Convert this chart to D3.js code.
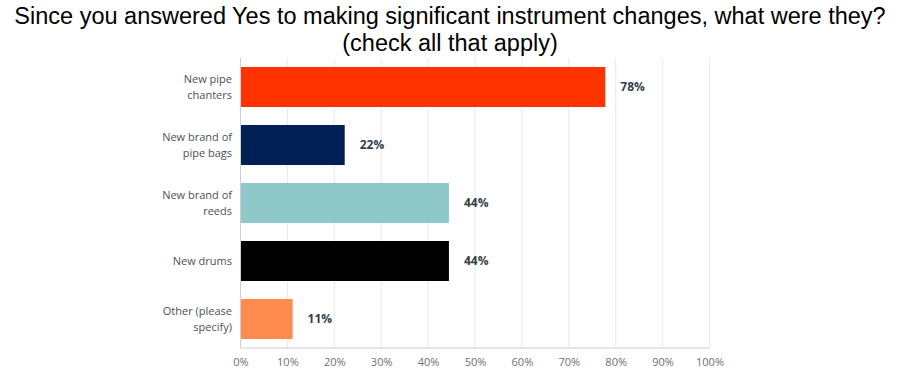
<!DOCTYPE html>
<html>
<head>
<meta charset="utf-8">
<script src="https://cdn.jsdelivr.net/npm/d3@7"></script>
<style>
  body { margin: 0; background: #fff; }
  svg { display: block; }
</style>
</head>
<body>
<svg id="chart" width="909" height="387"></svg>
<script>
const categories = ['New pipe chanters', 'New brand of pipe bags', 'New brand of reeds', 'New drums', 'Other (please specify)']
const labelLines = [['New pipe', 'chanters'], ['New brand of', 'pipe bags'], ['New brand of', 'reeds'], ['New drums'], ['Other (please', 'specify)']]
const values = [77.78, 22.22, 44.44, 44.44, 11.11]
const valueLabels = ['78%', '22%', '44%', '44%', '11%']
const colors = ['#ff3300', '#001f55', '#8ec8c9', '#000000', '#ff8b4f']
const ticks = [0, 10, 20, 30, 40, 50, 60, 70, 80, 90, 100]
const titleLines = ['Since you answered Yes to making significant instrument changes, what were they?', '(check all that apply)']

const svg = d3.select('#chart')
const plotLeft = 240.5, plotRight = 709.5, plotTop = 58, plotBottom = 348

const x = d3.scaleLinear().domain([0, 100]).range([plotLeft, plotRight])
const y = d3.scaleBand().domain(categories).range([plotTop, plotBottom]).paddingInner(0.31).paddingOuter(0.155)

// title
svg.append('g').selectAll('text')
  .data(titleLines)
  .join('text')
  .attr('x', 450)
  .attr('y', (d, i) => 24 + i * 27)
  .attr('text-anchor', 'middle')
  .attr('font-family', 'Liberation Sans, Arial, sans-serif')
  .attr('font-size', 23.5)
  .attr('fill', '#000')
  .text(d => d)

// grid
svg.append('g').selectAll('line')
  .data(ticks.slice(1))
  .join('line')
  .attr('x1', d => x(d)).attr('x2', d => x(d))
  .attr('y1', plotTop).attr('y2', plotBottom)
  .attr('stroke', '#e9e9e9')
  .attr('stroke-width', 1)

// axis lines
svg.append('line')
  .attr('x1', plotLeft).attr('x2', plotLeft).attr('y1', plotTop).attr('y2', plotBottom)
  .attr('stroke', '#cfcfcf')
svg.append('line')
  .attr('x1', plotLeft).attr('x2', plotRight).attr('y1', plotBottom).attr('y2', plotBottom)
  .attr('stroke', '#cfcfcf')

// x tick labels
const xAxis = d3.axisBottom(x).tickValues(ticks).tickFormat(d => d + '%').tickSize(0).tickPadding(10)
const gx = svg.append('g').attr('transform', `translate(0,${plotBottom})`).call(xAxis)
gx.select('.domain').remove()
gx.selectAll('text')
  .attr('font-family', 'Open Sans, Roboto, sans-serif')
  .attr('font-size', 11)
  .attr('fill', '#6a7079')

// bars
svg.append('g').selectAll('rect')
  .data(categories)
  .join('rect')
  .attr('x', x(0) + 0.5)
  .attr('y', d => y(d))
  .attr('width', (d, i) => x(values[i]) - x(0) - 0.5)
  .attr('height', y.bandwidth())
  .attr('fill', (d, i) => colors[i])

// value labels
svg.append('g').selectAll('text')
  .data(categories)
  .join('text')
  .attr('x', (d, i) => x(values[i]) + 15)
  .attr('y', d => y(d) + y.bandwidth() / 2)
  .attr('dy', '0.35em')
  .attr('font-family', 'Open Sans, Roboto, sans-serif')
  .attr('font-size', 12)
  .attr('font-weight', 'bold')
  .attr('fill', '#333e48')
  .text((d, i) => valueLabels[i])

// category labels
const cat = svg.append('g').selectAll('text')
  .data(categories)
  .join('text')
  .attr('x', 232)
  .attr('y', d => y(d) + y.bandwidth() / 2)
  .attr('text-anchor', 'end')
  .attr('font-family', 'Open Sans, Roboto, sans-serif')
  .attr('font-size', 11)
  .attr('fill', '#4a525a')
cat.each(function (d, i) {
  const lines = labelLines[i]
  const n = lines.length
  d3.select(this).selectAll('tspan')
    .data(lines)
    .join('tspan')
    .attr('x', 232)
    .attr('dy', (l, j) => j === 0 ? (0.35 - (n - 1) * 0.7) + 'em' : '1.4em')
    .text(l => l)
})
</script>
</body>
</html>
